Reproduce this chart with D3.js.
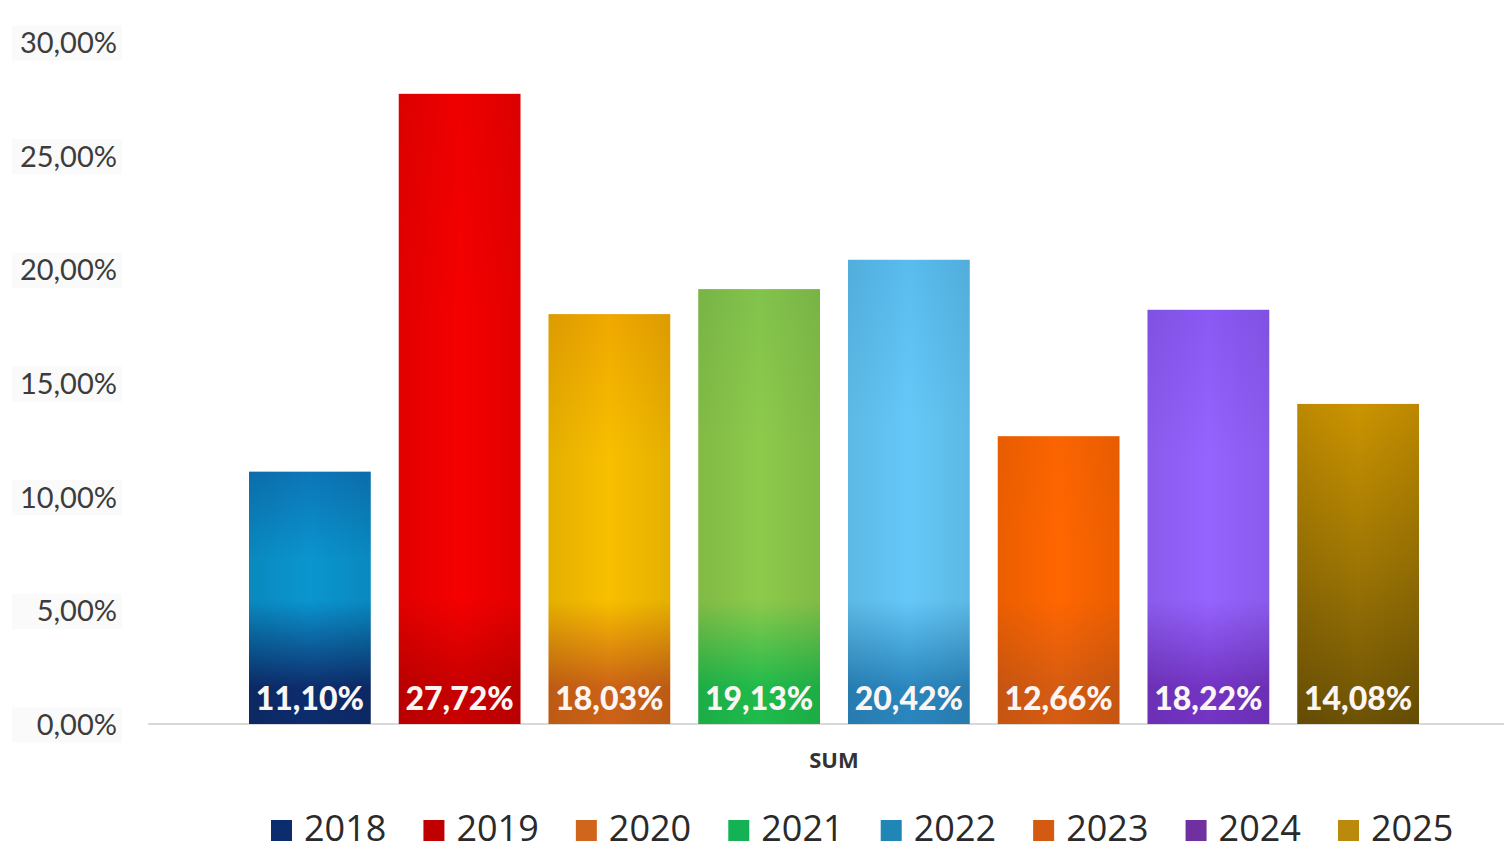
<!DOCTYPE html>
<html>
<head>
<meta charset="utf-8">
<script src="https://cdn.jsdelivr.net/npm/d3@7"></script>
<style>
  body { margin: 0; background: #fff; }
  svg { display: block; }
</style>
</head>
<body>
<svg></svg>
<script>
// data
var category = 'SUM';
var years = ['2018', '2019', '2020', '2021', '2022', '2023', '2024', '2025'];
var shares = [0.1110, 0.2772, 0.1803, 0.1913, 0.2042, 0.1266, 0.1822, 0.1408];
var yTicks = [0, 0.05, 0.10, 0.15, 0.20, 0.25, 0.30];

// colours: legend swatch, bar top, bar body, bar foot
var legendColors = ['#0b2d6e', '#c00000', '#d0661c', '#14b254', '#1f86b6', '#d45a12', '#7030a0', '#b98a0c'];
var topColors = ['#0c76b8', '#ef0000', '#f0a800', '#82c34c', '#58bcee', '#fb6400', '#8a58f4', '#cc9400'];
var bodyColors = ['#0a95cf', '#f50000', '#f8bf00', '#8dca4b', '#65c8f8', '#ff6600', '#9563ff', '#9e7604'];
var footColors = ['#0d2c6c', '#c80000', '#cc6216', '#1fbb4c', '#2a86be', '#d65c12', '#7434c4', '#6c5204'];

var W = 1504, H = 845;
var svg = d3.select('svg').attr('width', W).attr('height', H);
var defs = svg.append('defs');

var pct = d3.formatLocale({ decimal: ',', thousands: '.', grouping: [3], currency: ['', ''] }).format('.2%');

var y = d3.scaleLinear().domain([0, 0.30]).range([724, 42]);
var x0 = d3.scaleBand().domain([category]).range([148, 1520]);
var x1 = d3.scaleBand().domain(years)
    .range([x0(category) + 87, x0(category) + x0.bandwidth() - 87])
    .paddingInner(0.187).paddingOuter(0.0935);

// y axis labels with their faint boxes
var yAxis = svg.append('g')
    .attr('transform', 'translate(117,0)')
    .call(d3.axisLeft(y).tickValues(yTicks).tickFormat(pct).tickSize(0).tickPadding(0));
yAxis.select('.domain').remove();
yAxis.selectAll('.tick').insert('rect', 'text')
    .attr('x', -105).attr('y', -17)
    .attr('width', 110).attr('height', 35)
    .attr('fill', '#fafafa');
yAxis.selectAll('text')
    .attr('fill', '#3c3c3c')
    .attr('dy', '0.36em')
    .style('font-family', 'Lato, "Open Sans", sans-serif')
    .style('font-size', '29px');

// baseline
svg.append('line')
    .attr('x1', 148).attr('x2', W)
    .attr('y1', y(0)).attr('y2', y(0))
    .attr('stroke', '#d9d9d9').attr('stroke-width', 2);

// vertical gradients anchored to the plot, so every bar turns dark near the foot
years.forEach(function(yr, i) {
    var top = y(shares[i]);
    var span = y(0) - top;
    var off = function(py) { return Math.max(0, Math.min(1, (py - top) / span)); };
    var g = defs.append('linearGradient')
        .attr('id', 'v' + yr)
        .attr('x1', 0).attr('y1', 0).attr('x2', 0).attr('y2', 1);
    if (yr === '2025') {
        g.append('stop').attr('offset', 0).attr('stop-color', topColors[i]);
        g.append('stop').attr('offset', 0.5).attr('stop-color', bodyColors[i]);
        g.append('stop').attr('offset', 1).attr('stop-color', footColors[i]);
    } else {
        g.append('stop').attr('offset', 0).attr('stop-color', topColors[i]);
        g.append('stop').attr('offset', off(top + span * 0.35)).attr('stop-color', bodyColors[i]);
        g.append('stop').attr('offset', off(600)).attr('stop-color', bodyColors[i]);
        g.append('stop').attr('offset', off(688)).attr('stop-color', footColors[i]);
        g.append('stop').attr('offset', 1).attr('stop-color', footColors[i]);
    }
});
var hg = defs.append('linearGradient').attr('id', 'shade')
    .attr('x1', 0).attr('y1', 0).attr('x2', 1).attr('y2', 0);
hg.append('stop').attr('offset', 0).attr('stop-color', '#000').attr('stop-opacity', 0.08);
hg.append('stop').attr('offset', 0.5).attr('stop-color', '#000').attr('stop-opacity', 0);
hg.append('stop').attr('offset', 1).attr('stop-color', '#000').attr('stop-opacity', 0.08);

var bars = svg.append('g').selectAll('g')
    .data(years)
    .enter().append('g');

bars.append('rect')
    .attr('x', function(d) { return x1(d); })
    .attr('y', function(d, i) { return y(shares[i]); })
    .attr('width', x1.bandwidth())
    .attr('height', function(d, i) { return y(0) - y(shares[i]); })
    .attr('fill', function(d) { return 'url(#v' + d + ')'; });

bars.append('rect')
    .attr('x', function(d) { return x1(d); })
    .attr('y', function(d, i) { return y(shares[i]); })
    .attr('width', x1.bandwidth())
    .attr('height', function(d, i) { return y(0) - y(shares[i]); })
    .attr('fill', 'url(#shade)');

bars.append('text')
    .attr('x', function(d) { return x1(d) + x1.bandwidth() / 2; })
    .attr('y', 710)
    .attr('text-anchor', 'middle')
    .attr('fill', '#fbf6f4')
    .style('font-family', 'Lato, "Open Sans", sans-serif')
    .style('font-weight', '900')
    .style('font-size', '32px')
    .text(function(d, i) { return pct(shares[i]); });

// category label
svg.append('text')
    .attr('x', x0(category) + x0.bandwidth() / 2)
    .attr('y', 768)
    .attr('text-anchor', 'middle')
    .attr('fill', '#333')
    .style('font-family', '"Open Sans", sans-serif')
    .style('font-weight', 'bold')
    .style('font-size', '22px')
    .text(category);

// legend, kept low like the original
var lx = d3.scalePoint().domain(years).range([271, 1338]);
var leg = svg.append('g').selectAll('g')
    .data(years)
    .enter().append('g')
    .attr('transform', function(d) { return 'translate(' + lx(d) + ',0)'; });
leg.append('rect')
    .attr('x', 0).attr('y', 820)
    .attr('width', 21).attr('height', 21)
    .attr('fill', function(d, i) { return legendColors[i]; });
leg.append('text')
    .attr('x', 33).attr('y', 841)
    .attr('fill', '#2a2a2a')
    .style('font-family', '"Open Sans", sans-serif')
    .style('font-size', '36px')
    .text(function(d) { return d; });
</script>
</body>
</html>
